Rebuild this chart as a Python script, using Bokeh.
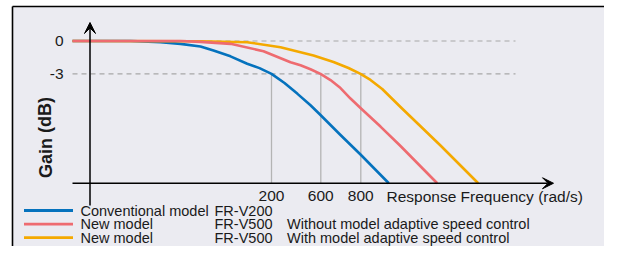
from bokeh.plotting import figure
from bokeh.models import Range1d, Arrow, VeeHead, BoxAnnotation, Label
from bokeh.embed import file_html
from bokeh.resources import INLINE

# ---- data (schematic frequency position vs gain in dB) ----
blue_x = [-18, 40, 70, 90, 110, 123, 140, 156.7, 169, 181, 194, 207, 220, 230, 250, 270, 298.3]
blue_db = [0, 0, -0.1, -0.26, -0.5, -0.87, -1.4, -2.08, -2.48, -3.0, -3.84, -4.83, -5.87, -6.76, -8.59, -10.37, -13.0]

red_x = [-18, 90, 110, 140, 173, 200, 210, 220, 230, 240, 250, 260, 270, 290, 310, 346.7]
red_db = [0, 0, -0.08, -0.26, -0.93, -1.94, -2.22, -2.58, -3.0, -3.57, -4.3, -5.26, -6.12, -7.82, -9.6, -13.0]

orange_x = [-18, 110, 156.7, 190, 223, 243, 258, 270, 280, 291.7, 310, 350, 387.7]
orange_db = [0, -0.02, -0.11, -0.57, -1.33, -1.92, -2.47, -3.0, -3.56, -4.39, -6.03, -9.55, -13.0]

tick_pos = [181, 230.3, 270.3]
tick_labels = ["200", "600", "800"]
ytick_pos = [0, -3]
ytick_labels = ["0", "-3"]

legend_models = ["Conventional model", "New model", "New model"]
legend_products = ["FR-V200", "FR-V500", "FR-V500"]
legend_notes = ["", "Without model adaptive speed control", "With model adaptive speed control"]

BLUE = "#0572BD"
RED = "#EE6B70"
ORANGE = "#F4A900"
BG = "#EBEBF1"
TXT = "#1A1A1A"
FONT = "Liberation Sans"

x_min, x_max = -90, 514
y_min, y_max = -18.78, 3.702
axis_db = -13.0
box_left, box_top = -78, 3.154

p = figure(width=604, height=246, x_range=Range1d(x_min, x_max), y_range=Range1d(y_min, y_max),
           toolbar_location=None, output_backend="svg", min_border=0,
           x_axis_location=None, y_axis_location=None)
p.grid.visible = False
p.outline_line_color = None
p.background_fill_color = "white"
p.border_fill_color = "white"

# box background + border
p.add_layout(BoxAnnotation(left=box_left, top=box_top, fill_color=BG, fill_alpha=1,
                           line_color=None, level="underlay"))
p.segment(x0=[box_left, box_left], y0=[box_top, box_top], x1=[x_max, box_left], y1=[box_top, y_min],
          line_color="black", line_width=1.6)

# dashed reference lines at 0 and -3 dB
for yv in ytick_pos:
    p.segment(x0=[-18], y0=[yv], x1=[425], y1=[yv], line_color="#A8A8A8", line_width=1.1, line_dash="5 4")

# vertical markers at -3 dB points
p.segment(x0=tick_pos, y0=[-3] * 3, x1=tick_pos, y1=[axis_db] * 3, line_color="#B4B4B4", line_width=1.3)

# curves
p.line(blue_x, blue_db, line_color=BLUE, line_width=2.6, line_join="round")
p.line(orange_x, orange_db, line_color=ORANGE, line_width=2.6, line_join="round")
p.line(red_x, red_db, line_color=RED, line_width=2.6, line_join="round")

# axes with arrows
p.add_layout(Arrow(end=VeeHead(size=11, fill_color="black", line_color="black", line_width=1),
                   x_start=-18, y_start=axis_db, x_end=463, y_end=axis_db,
                   line_color="black", line_width=1.5))
p.add_layout(Arrow(end=VeeHead(size=11, fill_color="black", line_color="black", line_width=1),
                   x_start=-0.5, y_start=-15.04, x_end=-0.5, y_end=1.69,
                   line_color="black", line_width=1.5))

# y tick labels
for yv, lab in zip(ytick_pos, ytick_labels):
    p.add_layout(Label(x=-27, y=yv, text=lab, text_align="right", text_baseline="middle",
                       text_font=FONT, text_font_size="15.5px", text_color=TXT))

# x tick labels
for xv, lab in zip(tick_pos, tick_labels):
    p.add_layout(Label(x=xv, y=-14.2, text=lab, text_align="center", text_baseline="middle",
                       text_font=FONT, text_font_size="15.5px", text_color=TXT))
p.add_layout(Label(x=296, y=-14.2, text="Response Frequency (rad/s)", text_align="left",
                   text_baseline="middle", text_font=FONT, text_font_size="15.5px", text_color=TXT))

# y axis title
p.add_layout(Label(x=-45, y=-8.82, text="Gain (dB)", angle=1.5708, text_align="center",
                   text_baseline="middle", text_font=FONT, text_font_size="18px",
                   text_font_style="bold", text_color=TXT))

# legend
row_db = [-15.49, -16.73, -17.96]
colors = [BLUE, RED, ORANGE]
for yv, c, m, prod, note in zip(row_db, colors, legend_models, legend_products, legend_notes):
    p.segment(x0=[-66.5], y0=[yv], x1=[-17.5], y1=[yv], line_color=c, line_width=2.8)
    p.add_layout(Label(x=-10, y=yv, text=m, text_align="left", text_baseline="middle",
                       text_font=FONT, text_font_size="14.5px", text_color=TXT))
    p.add_layout(Label(x=124, y=yv, text=prod, text_align="left", text_baseline="middle",
                       text_font=FONT, text_font_size="14.5px", text_color=TXT))
    if note:
        p.add_layout(Label(x=196.5, y=yv, text=note, text_align="left", text_baseline="middle",
                           text_font=FONT, text_font_size="14.5px", text_color=TXT))

open("out.html", "w").write(file_html(p, INLINE))
